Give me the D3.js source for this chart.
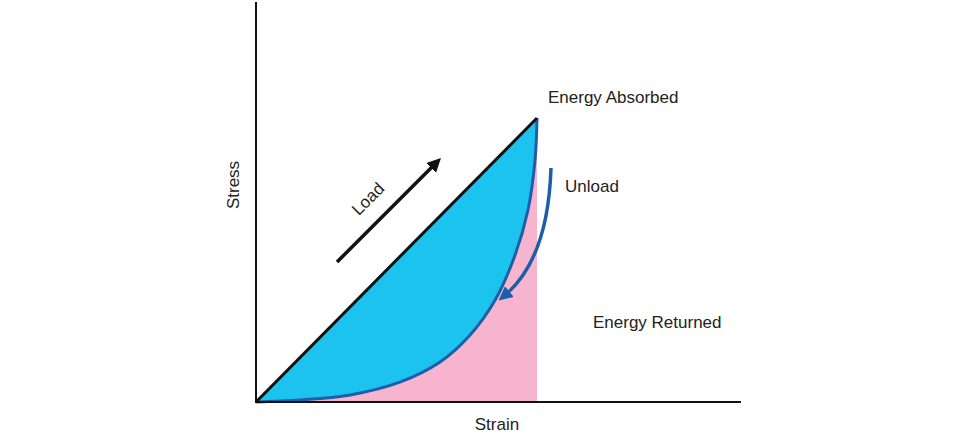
<!DOCTYPE html>
<html><head><meta charset="utf-8">
<script src="https://cdn.jsdelivr.net/npm/d3@7"></script>
<style>body{margin:0;background:#fff}text{font-family:"Liberation Sans",Arial,sans-serif;font-size:17px;fill:#222}</style>
</head><body><div id="main"></div>
<script>
// loading path (straight) and unloading path (curve), strain/stress in relative units
var loadStrain = [0, 1],
	loadStress = [0, 1];
var unloadStrain = [1, 0.993, 0.968, 0.922, 0.851, 0.762, 0.655, 0.512, 0.335, 0.157, 0],
	unloadStress = [1, 0.852, 0.676, 0.518, 0.359, 0.236, 0.141, 0.070, 0.025, 0.007, 0];
var labels = ["Energy Absorbed", "Unload", "Energy Returned"];

var svg = d3.select('#main').append('svg').attr('width', 973).attr('height', 433);

var x = d3.scaleLinear().domain([0, 1]).range([256, 537]),
	y = d3.scaleLinear().domain([0, 1]).range([402, 118]);

var unload = unloadStrain.map((d, i) => [d, unloadStress[i]]);
var load = loadStrain.map((d, i) => [d, loadStress[i]]);
var line = d3.line().x(d => x(d[0])).y(d => y(d[1])).curve(d3.curveMonotoneX);
var lineB = d3.line().x(d => x(d[0])).y(d => y(d[1])).curve(d3.curveCatmullRom);

// pink: under unload curve
svg.append('path').attr('fill', '#f7b4cf')
	.attr('d', lineB(unload) + 'L' + x(1) + ',' + y(0) + 'Z');
// blue: between load line and unload curve
svg.append('path').attr('fill', '#1bc3ee')
	.attr('d', lineB(unload) + 'L' + x(1) + ',' + y(1) + 'Z');
svg.append('path').attr('fill', 'none').attr('stroke', '#1d5ea8').attr('stroke-width', 3)
	.attr('d', lineB(unload));
svg.append('path').attr('fill', 'none').attr('stroke', '#111').attr('stroke-width', 3)
	.attr('d', line(load));

// axes
svg.append('line').attr('x1', 256).attr('x2', 256).attr('y1', 2).attr('y2', 402).attr('stroke', '#111').attr('stroke-width', 2);
svg.append('line').attr('x1', 255).attr('x2', 741).attr('y1', 402).attr('y2', 402).attr('stroke', '#111').attr('stroke-width', 2);

var defs = svg.append('defs');
function marker(id, c) {
	defs.append('marker').attr('id', id).attr('viewBox', '0 0 10 10').attr('refX', 5).attr('refY', 5)
		.attr('markerWidth', 4).attr('markerHeight', 4).attr('orient', 'auto')
		.append('path').attr('d', 'M0,0L10,5L0,10Z').attr('fill', c);
}
marker('ak', '#111'); marker('ab', '#1d5ea8');

svg.append('line').attr('x1', 337).attr('y1', 262).attr('x2', 436).attr('y2', 163)
	.attr('stroke', '#111').attr('stroke-width', 3.5).attr('marker-end', 'url(#ak)');
svg.append('path').attr('d', 'M551,168 Q548,260 504,296').attr('fill', 'none')
	.attr('stroke', '#1d5ea8').attr('stroke-width', 3.5).attr('marker-end', 'url(#ab)');

svg.append('text').attr('x', 548).attr('y', 103).text(labels[0]);
svg.append('text').attr('x', 565).attr('y', 192).text(labels[1]);
svg.append('text').attr('x', 593).attr('y', 328).text(labels[2]);
svg.append('text').attr('transform', 'translate(372,203) rotate(-45)').attr('text-anchor', 'middle').text('Load');
svg.append('text').attr('transform', 'translate(239,185) rotate(-90)').attr('text-anchor', 'middle').text('Stress');
svg.append('text').attr('x', 497).attr('y', 430).attr('text-anchor', 'middle').text('Strain');
</script></body></html>
